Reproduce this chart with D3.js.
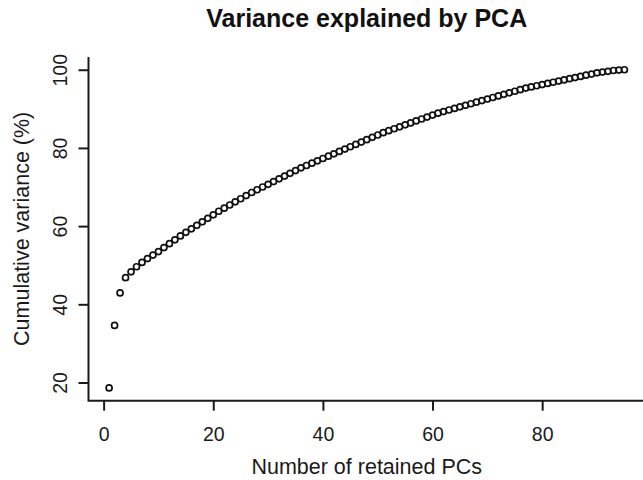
<!DOCTYPE html>
<html>
<head>
<meta charset="utf-8">
<script src="https://cdn.jsdelivr.net/npm/d3@7"></script>
<style>
  html, body { margin: 0; padding: 0; background: #fff; }
  svg { display: block; font-family: "Liberation Sans", Arial, Helvetica, sans-serif; }
</style>
</head>
<body>
<div id="root"></div>
<script>
// cumulative variance (%) for each retained PC
const cumVariance = [
  18.6, 34.6, 42.9, 46.8, 48.3, 49.6, 50.7, 51.7, 52.6, 53.5,
  54.5, 55.5, 56.5, 57.5, 58.4, 59.3, 60.2, 61.1, 62.0, 62.9,
  63.8, 64.6, 65.4, 66.2, 67.0, 67.8, 68.6, 69.3, 70.0, 70.7,
  71.4, 72.1, 72.8, 73.5, 74.2, 74.9, 75.5, 76.1, 76.7, 77.3,
  77.9, 78.5, 79.1, 79.7, 80.3, 80.9, 81.5, 82.1, 82.7, 83.3,
  83.9, 84.4, 84.9, 85.4, 85.9, 86.4, 86.9, 87.4, 87.9, 88.4,
  88.9, 89.3, 89.7, 90.1, 90.5, 90.9, 91.3, 91.7, 92.1, 92.5,
  92.9, 93.3, 93.7, 94.1, 94.5, 94.9, 95.3, 95.6, 95.9, 96.2,
  96.5, 96.8, 97.1, 97.4, 97.7, 98.0, 98.3, 98.6, 98.9, 99.2,
  99.4, 99.6, 99.8, 99.9, 100.0,
];
const pcs = cumVariance.map((_, i) => i + 1);
const xTicks = [0, 20, 40, 60, 80];
const yTicks = [20, 40, 60, 80, 100];

const title = "Variance explained by PCA";
const xLabel = "Number of retained PCs";
const yLabel = "Cumulative variance (%)";

const width = 643;
const height = 480;
const plot = { left: 88.5, right: 645, top: 57, bottom: 400.7 };
const ink = "#1a1a1a";
const tickLen = 10;
const tickFont = 19.5;

// R style range: 4% padding on each side of the data
function padded(lo, hi) {
  const d = (hi - lo) * 0.04;
  return [lo - d, hi + d];
}

const x = d3.scaleLinear()
  .domain(padded(d3.min(pcs), d3.max(pcs)))
  .range([plot.left, plot.right]);
const y = d3.scaleLinear()
  .domain(padded(d3.min(cumVariance), d3.max(cumVariance)))
  .range([plot.bottom, plot.top]);

const svg = d3.select("#root")
  .append("svg")
  .attr("width", width)
  .attr("height", height)
  .attr("viewBox", `0 0 ${width} ${height}`);

// bty = "l": just left and bottom sides
svg.append("path")
  .attr("d", `M${plot.left},${plot.top} V${plot.bottom} H${plot.right}`)
  .attr("fill", "none")
  .attr("stroke", ink)
  .attr("stroke-width", 2);

const xAxis = svg.append("g")
  .attr("transform", `translate(0,${plot.bottom})`)
  .call(d3.axisBottom(x).tickValues(xTicks).tickSize(tickLen).tickPadding(16));
xAxis.select(".domain").remove();
xAxis.selectAll(".tick line").attr("stroke", ink).attr("stroke-width", 2);
xAxis.selectAll(".tick text")
  .attr("fill", ink)
  .attr("font-size", tickFont)
  .attr("font-family", "Liberation Sans, Arial, sans-serif");

const yAxis = svg.append("g")
  .attr("transform", `translate(${plot.left},0)`)
  .call(d3.axisLeft(y).tickValues(yTicks).tickSize(tickLen));
yAxis.select(".domain").remove();
yAxis.selectAll(".tick line").attr("stroke", ink).attr("stroke-width", 2);
yAxis.selectAll(".tick text")
  .attr("fill", ink)
  .attr("font-size", tickFont)
  .attr("font-family", "Liberation Sans, Arial, sans-serif")
  .attr("text-anchor", "middle")
  .attr("dy", null)
  .attr("x", null)
  .attr("transform", `translate(${66.5 - plot.left},0) rotate(-90)`);

svg.append("g")
  .selectAll("circle")
  .data(pcs)
  .join("circle")
  .attr("cx", (d) => x(d))
  .attr("cy", (d, i) => y(cumVariance[i]))
  .attr("r", 3.0)
  .attr("fill", "none")
  .attr("stroke", "#111")
  .attr("stroke-width", 1.7);

svg.append("text")
  .text(title)
  .attr("x", (plot.left + plot.right) / 2)
  .attr("y", 27)
  .attr("text-anchor", "middle")
  .attr("font-size", 25)
  .attr("font-weight", "bold")
  .attr("fill", "#111");

svg.append("text")
  .text(xLabel)
  .attr("x", (plot.left + plot.right) / 2)
  .attr("y", 474)
  .attr("text-anchor", "middle")
  .attr("font-size", 21.5)
  .attr("fill", ink);

svg.append("text")
  .text(yLabel)
  .attr("transform", `translate(28.5,${(plot.top + plot.bottom) / 2}) rotate(-90)`)
  .attr("text-anchor", "middle")
  .attr("font-size", 21.5)
  .attr("fill", ink);
</script>
</body>
</html>
